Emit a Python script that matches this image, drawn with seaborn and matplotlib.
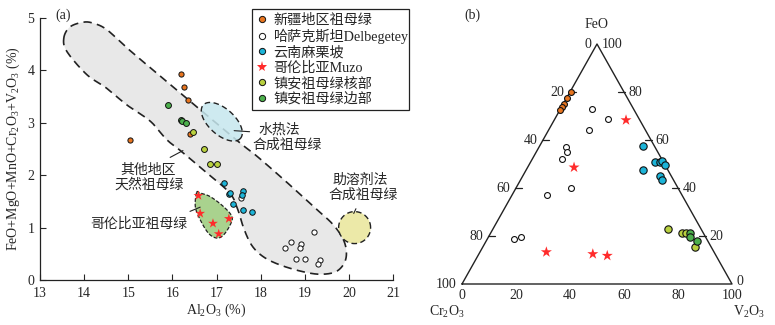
import numpy as np
import pandas as pd
import matplotlib
matplotlib.use("Agg")
import matplotlib.pyplot as plt
from matplotlib.lines import Line2D
from matplotlib.font_manager import FontProperties
import seaborn as sns

# ---------------- data: panel (a) ----------------
xj_al = [16.20, 16.27, 16.36, 16.39, 15.04]
xj_sum = [3.93, 3.69, 3.44, 2.79, 2.68]
del_al = [19.22, 18.69, 18.55, 18.92, 18.90, 18.80, 19.01, 19.34, 19.31, 17.55]
del_sum = [0.91, 0.72, 0.61, 0.69, 0.61, 0.40, 0.40, 0.38, 0.30, 1.57]
yn_al = [17.17, 17.29, 17.31, 17.60, 17.58, 17.37, 17.61, 17.81]
yn_sum = [1.85, 1.64, 1.66, 1.69, 1.62, 1.45, 1.34, 1.29]
muzo_al = [16.59, 16.63, 16.92, 17.28, 17.05]
muzo_sum = [1.61, 1.27, 1.08, 1.17, 0.88]
core_al = [16.46, 16.71, 16.86, 17.01]
core_sum = [2.82, 2.50, 2.22, 2.21]
rim_al = [15.91, 16.19, 16.21, 16.30]
rim_sum = [3.34, 3.05, 3.03, 2.99]

# ---------------- data: panel (b) ternary (FeO, V2O3; Cr2O3 = rest) ----------------
xj_fe = [80.1, 77.6, 74.9, 73.6, 72.5]
xj_v = [0.2, 0.2, 0.2, 0.2, 0.2]
del_fe = [72.9, 68.8, 64.0, 57.2, 54.9, 52.1, 40.1, 37.2, 19.6, 18.9]
del_v = [11.8, 19.7, 14.9, 9.9, 11.3, 11.0, 20.4, 12.9, 11.9, 9.8]
muzo_fe = [68.3, 48.6, 13.3, 12.5, 11.8]
muzo_v = [26.6, 17.2, 24.6, 42.2, 47.9]
yn_fe = [57.5, 51.0, 50.8, 51.4, 49.7, 47.5, 45.1, 43.3]
yn_v = [38.4, 46.0, 47.8, 48.5, 50.2, 43.2, 50.7, 52.5]
core_fe = [22.9, 21.1, 21.1, 15.3]
core_v = [64.7, 70.8, 72.4, 78.6]
rim_fe = [21.1, 19.5, 18.0]
rim_v = [73.9, 74.6, 78.1]

labels = ["新疆地区祖母绿", "哈萨克斯坦Delbegetey", "云南麻栗坡", "哥伦比亚Muzo",
          "镇安祖母绿核部", "镇安祖母绿边部"]
colors = ["#e8751f", "#ffffff", "#1cb4d8", "#ff2b2b", "#b9d13f", "#4cb04c"]
markers = ["o", "o", "o", "*", "o", "o"]
ternary_ticks = [0, 20, 40, 60, 80, 100]

# region outlines (annotation shapes, data units)
gray_x = [13.54, 13.68, 13.98, 14.21, 14.51, 14.97, 15.50, 15.95, 16.63, 17.54, 17.92, 18.6,
          19.2, 19.65, 19.90, 19.93, 19.73, 19.35, 18.90, 18.40, 18.05, 17.80, 17.62, 17.48,
          17.30, 16.80, 16.21, 15.87, 15.50, 14.97, 14.51, 14.06, 13.61]
gray_y = [4.62, 4.83, 4.92, 4.90, 4.78, 4.43, 4.05, 3.73, 3.25, 2.61, 2.36, 1.86,
          1.40, 1.05, 0.72, 0.40, 0.17, 0.11, 0.17, 0.30, 0.45, 0.66, 0.98, 1.35,
          1.66, 2.03, 2.45, 2.68, 3.03, 3.34, 3.66, 3.92, 4.36]
col_x = [16.55, 16.63, 16.86, 17.16, 17.35, 17.31, 17.16, 17.01, 16.82, 16.63, 16.52]
col_y = [1.67, 1.66, 1.59, 1.40, 1.21, 1.05, 0.86, 0.80, 0.89, 1.15, 1.40]


def smooth_closed(xs, ys, n=24):
    P = np.column_stack([xs, ys])
    N = len(P)
    out = []
    t = np.linspace(0, 1, n, endpoint=False)[:, None]
    for i in range(N):
        p0, p1, p2, p3 = P[(i - 1) % N], P[i], P[(i + 1) % N], P[(i + 2) % N]
        out.append(0.5 * ((2 * p1) + (-p0 + p2) * t + (2 * p0 - 5 * p1 + 4 * p2 - p3) * t ** 2
                          + (-p0 + 3 * p1 - 3 * p2 + p3) * t ** 3))
    out = np.vstack(out)
    return np.vstack([out, out[:1]])


sns.set_style("ticks")
plt.rcParams["font.family"] = ["Liberation Serif", "Noto Sans CJK SC"]
plt.rcParams["mathtext.fontset"] = "custom"
plt.rcParams["mathtext.rm"] = "Liberation Serif"
plt.rcParams["mathtext.it"] = "Liberation Serif:italic"
cjk = ["Noto Sans CJK SC", "Liberation Serif"]

W, H = 775, 325
fig = plt.figure(figsize=(W / 100, H / 100), dpi=100)
ax = fig.add_axes([40 / W, 45 / H, 353 / W, 262 / H])
ax.set_xlim(13, 21)
ax.set_ylim(0, 5)
pxu_x = 353 / 8.0
pxu_y = 262 / 5.0

# gray natural region
g = smooth_closed(gray_x, gray_y)
ax.fill(g[:, 0], g[:, 1], facecolor="#e8e8e8", edgecolor="none", zorder=1)
ax.plot(g[:, 0], g[:, 1], color="#222222", lw=1.2, ls=(0, (5, 3.2)), zorder=2)

# hydrothermal ellipse
tt = np.linspace(0, 2 * np.pi, 200)
th = np.deg2rad(42)
a_px, b_px = 25, 13
dx = a_px * np.cos(th) * np.cos(tt) - b_px * np.sin(th) * np.sin(tt)
dy = -(a_px * np.sin(th) * np.cos(tt) + b_px * np.cos(th) * np.sin(tt))
ex = 17.12 + dx / pxu_x
ey = 3.02 + dy / pxu_y
ax.fill(ex, ey, facecolor="#c6e7ee", alpha=0.85, edgecolor="none", zorder=3)
ax.plot(ex, ey, color="#222222", lw=1.0, ls=(0, (4, 2.5)), zorder=4)

# flux circle
cx = 20.13 + 16 * np.cos(tt) / pxu_x
cy = 1.0 + 16 * np.sin(tt) / pxu_y
ax.fill(cx, cy, facecolor="#ece9a8", edgecolor="none", zorder=3, clip_on=False)
ax.plot(cx, cy, color="#222222", lw=1.0, ls=(0, (4, 2.5)), zorder=4, clip_on=False)

# Colombia region
c = smooth_closed(col_x, col_y)
ax.fill(c[:, 0], c[:, 1], facecolor="#a9d28e", edgecolor="none", zorder=3)
ax.plot(c[:, 0], c[:, 1], color="#222222", lw=0.9, ls=(0, (3, 1.5)), zorder=4)

groups_a = [(xj_al, xj_sum), (del_al, del_sum), (yn_al, yn_sum), (muzo_al, muzo_sum),
            (core_al, core_sum), (rim_al, rim_sum)]
sizes_a = [14, 14, 16, 55, 18, 18]
for (xs, ys), col, mk, sz in zip(groups_a, colors, markers, sizes_a):
    if mk == "*":
        sns.scatterplot(x=xs, y=ys, ax=ax, marker="*", s=sz, color=col, edgecolor="none",
                        linewidth=0, zorder=6)
    else:
        sns.scatterplot(x=xs, y=ys, ax=ax, marker="o", s=sz, color=col, edgecolor="#111111",
                        linewidth=0.7, zorder=6)

# annotations
tk = dict(fontsize=10, family=cjk, ha="center", va="center", zorder=7)
ax.text(18.43, 2.88, "水热法", **tk)
ax.text(18.60, 2.58, "合成祖母绿", **tk)
ax.text(15.44, 2.10, "其他地区", **tk)
ax.text(15.48, 1.82, "天然祖母绿", **tk)
ax.text(15.24, 1.07, "哥伦比亚祖母绿", **tk)
ax.text(20.26, 1.91, "助溶剂法", clip_on=False, **tk)
ax.text(20.32, 1.62, "合成祖母绿", clip_on=False, **tk)
lk = dict(color="#222222", lw=0.8, zorder=7)
ax.plot([17.40, 17.75], [2.85, 2.83], **lk)
ax.plot([15.95, 16.24], [2.34, 2.47], **lk)
ax.plot([16.40, 16.63], [1.31, 1.39], **lk)
ax.plot([20.11, 20.16], [1.27, 1.36], **lk)

ax.set_xticks(range(13, 22))
ax.set_yticks(range(0, 6))
ax.tick_params(direction="in", length=4, width=0.8, labelsize=10)
ax.tick_params(axis="x", pad=5)
ax.tick_params(axis="y", pad=4)
for s in ["top", "right"]:
    ax.spines[s].set_visible(False)
for s in ["left", "bottom"]:
    ax.spines[s].set_linewidth(0.9)
    ax.spines[s].set_color("#222222")
ax.set_xlabel(r"$\mathrm{Al_2O_3}$ (%)", fontsize=10, labelpad=1)
ax.set_ylabel(r"$\mathrm{FeO{+}MgO{+}MnO{+}Cr_2O_3{+}V_2O_3}$ (%)", fontsize=10, labelpad=4)
fig.text(63 / W, 1 - 15 / H, "(a)", fontsize=10, ha="center", va="center")

handles = []
for col, mk in zip(colors, markers):
    if mk == "*":
        handles.append(Line2D([], [], ls="none", marker="*", markersize=8, color=col,
                              markeredgewidth=0))
    else:
        handles.append(Line2D([], [], ls="none", marker="o", markersize=4.5, markerfacecolor=col,
                              markeredgecolor="#111111", markeredgewidth=0.7))
leg = fig.legend(handles, labels, loc="upper left",
                 bbox_to_anchor=(252 / W, 1 - 110 / H, 157 / W, 101 / H), mode="expand",
                 bbox_transform=fig.transFigure, borderaxespad=0, fancybox=False,
                 edgecolor="#222222", framealpha=1, handlelength=0.8, handletextpad=0.4,
                 labelspacing=0.14, borderpad=0.32,
                 prop=FontProperties(family=["Liberation Serif", "Noto Sans CJK SC"], size=10.2))
leg.get_frame().set_linewidth(0.9)

# ---------------- panel (b) ternary ----------------
bx = fig.add_axes([462 / W, 41 / H, 270 / W, 240 / H])
bx.set_xlim(0, 100)
bx.set_ylim(0, 100)
bx.axis("off")


def tern(fe, v):
    fe = np.asarray(fe, float)
    v = np.asarray(v, float)
    return v + fe / 2.0, fe


tri_fe = [0, 0, 100, 0]
tri_v = [0, 100, 0, 0]
txx, tyy = tern(tri_fe, tri_v)
bx.plot(txx, tyy, color="#222222", lw=1.0, clip_on=False)

groups_b = [(xj_fe, xj_v), (del_fe, del_v), (yn_fe, yn_v), (muzo_fe, muzo_v),
            (core_fe, core_v), (rim_fe, rim_v)]
sizes_b = [18, 18, 28, 70, 28, 28]
for (fe, v), col, mk, sz in zip(groups_b, colors, markers, sizes_b):
    xs, ys = tern(fe, v)
    if mk == "*":
        sns.scatterplot(x=xs, y=ys, ax=bx, marker="*", s=sz, color=col, edgecolor="none",
                        linewidth=0, zorder=6, clip_on=False)
    else:
        sns.scatterplot(x=xs, y=ys, ax=bx, marker="o", s=sz, color=col, edgecolor="#111111",
                        linewidth=0.8, zorder=6, clip_on=False)

fs = 10
for t in ternary_ticks:
    # left edge: Cr2O3 (Fe = 100 - t, V = 0)
    lx, ly = tern([100 - t], [0])
    if 0 < t < 100:
        bx.plot([lx[0] - 0.5, lx[0] + 2.2], [ly[0], ly[0]], color="#222222", lw=0.9, clip_on=False)
    bx.annotate(str(t), (lx[0], ly[0]), xytext=(-4, 0), textcoords="offset points",
                ha="right", va="center", fontsize=fs, annotation_clip=False)
    # right edge: FeO (Fe = t, V = 100 - t)
    rx, ry = tern([t], [100 - t])
    if 0 < t < 100:
        bx.plot([rx[0] - 2.2, rx[0] + 0.5], [ry[0], ry[0]], color="#222222", lw=0.9, clip_on=False)
    bx.annotate(str(t), (rx[0], ry[0]), xytext=(3.5, 1.5 if t == 0 else 0),
                textcoords="offset points", ha="left", va="center", fontsize=fs,
                annotation_clip=False)
    # bottom edge: V2O3 (Fe = 0, V = t)
    bxx, byy = tern([0], [t])
    bx.annotate(str(t), (bxx[0], byy[0]), xytext=(0, -8.5), textcoords="offset points",
                ha="center", va="center", fontsize=fs, annotation_clip=False)

fig.text(597 / W, 1 - 25 / H, "FeO", fontsize=10, ha="center", va="center")
fig.text(447 / W, 1 - 312 / H, r"$\mathrm{Cr_2O_3}$", fontsize=10, ha="center", va="center")
fig.text(749 / W, 1 - 312 / H, r"$\mathrm{V_2O_3}$", fontsize=10, ha="center", va="center")
fig.text(472 / W, 1 - 15 / H, "(b)", fontsize=10, ha="center", va="center")

fig.savefig("out.png", dpi=100, facecolor="white")
